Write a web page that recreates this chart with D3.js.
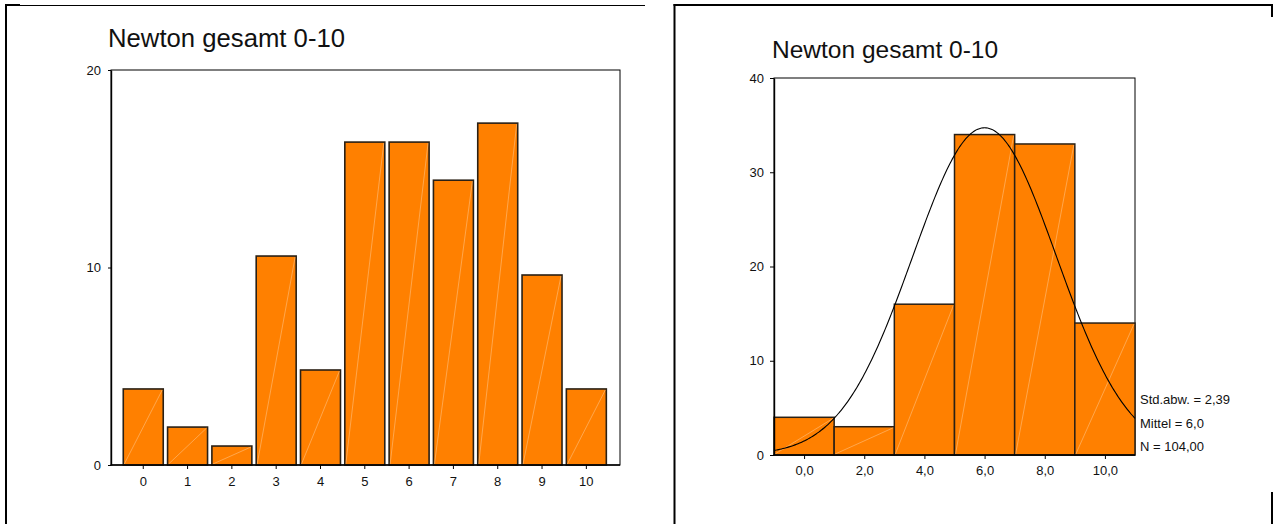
<!DOCTYPE html>
<html>
<head>
<meta charset="utf-8">
<script src="https://cdn.jsdelivr.net/npm/d3@7"></script>
<style>
  html, body { margin: 0; padding: 0; background: #fff; }
  svg { display: block; font-family: "Liberation Sans", Arial, sans-serif; }
</style>
</head>
<body>
<svg id="chart" width="1277" height="524"></svg>
<script>
// ---------- data ----------
const titleText = "Newton gesamt 0-10";

// left chart: percent of cases per score 0..10 (N = 104)
const categories = ["0", "1", "2", "3", "4", "5", "6", "7", "8", "9", "10"];
const percents = [3.85, 1.92, 0.96, 10.58, 4.81, 16.35, 16.35, 14.42, 17.31, 9.62, 3.85];
const leftYTicks = [0, 10, 20];

// right chart: histogram, bins of width 2 centred on 0,2,...,10
const binCenters = [0, 2, 4, 6, 8, 10];
const binCounts = [4, 3, 16, 34, 33, 14];
const binWidth = 2;
const rightXTickLabels = ["0,0", "2,0", "4,0", "6,0", "8,0", "10,0"];
const rightYTicks = [0, 10, 20, 30, 40];

// statistics shown next to the histogram (normal curve uses them)
const statsStd = 2.39;
const statsMean = 6.0;
const statsN = 104;
const statsLabels = ["Std.abw. = 2,39", "Mittel = 6,0", "N = 104,00"];

// ---------- drawing ----------
const svg = d3.select("#chart");
const ORANGE = "#ff8000";
const BAR_STROKE = "#2a2015";
const DIAG = "rgba(255,230,200,0.55)";

// outer frame lines
const frame = svg.append("g").attr("stroke", "#000").attr("fill", "none");
frame.append("line").attr("x1", 5).attr("x2", 645).attr("y1", 5.5).attr("y2", 5.5).attr("stroke-width", 1.2);
frame.append("line").attr("x1", 5).attr("x2", 20).attr("y1", 5).attr("y2", 5).attr("stroke-width", 2);
frame.append("line").attr("x1", 6).attr("x2", 6).attr("y1", 4).attr("y2", 524).attr("stroke-width", 2);
frame.append("line").attr("x1", 674.5).attr("x2", 674.5).attr("y1", 4).attr("y2", 524).attr("stroke-width", 2);
frame.append("line").attr("x1", 673.5).attr("x2", 1273).attr("y1", 5).attr("y2", 5).attr("stroke-width", 2);
frame.append("line").attr("x1", 1272).attr("x2", 1272).attr("y1", 4).attr("y2", 17).attr("stroke-width", 2);
frame.append("line").attr("x1", 1272).attr("x2", 1272).attr("y1", 492).attr("y2", 524).attr("stroke-width", 2);

// ===== left chart =====
const L = { left: 111, right: 620, top: 70, bottom: 465 };
const xL = d3.scaleBand().domain(categories).range([121.1, 608.5])
  .paddingInner(0.098).paddingOuter(0.049);
const yL = d3.scaleLinear().domain([0, 20]).range([L.bottom, L.top]);

svg.append("text").attr("x", 108).attr("y", 47)
  .attr("font-size", 25.7).attr("fill", "#111").text(titleText);

const gL = svg.append("g");
gL.append("rect").attr("x", L.left).attr("y", L.top)
  .attr("width", L.right - L.left).attr("height", L.bottom - L.top)
  .attr("fill", "none").attr("stroke", "#000").attr("stroke-width", 1);

const barsL = gL.selectAll("g.bar").data(categories).join("g").attr("class", "bar");
barsL.append("rect")
  .attr("x", d => xL(d))
  .attr("y", (d, i) => yL(percents[i]))
  .attr("width", xL.bandwidth())
  .attr("height", (d, i) => yL(0) - yL(percents[i]))
  .attr("fill", ORANGE).attr("stroke", BAR_STROKE).attr("stroke-width", 1.6);
barsL.append("line")
  .attr("x1", d => xL(d) + 1).attr("y1", yL(0) - 1)
  .attr("x2", d => xL(d) + xL.bandwidth() - 1).attr("y2", (d, i) => yL(percents[i]) + 1)
  .attr("stroke", DIAG).attr("stroke-width", 0.7);

const axLY = gL.append("g").attr("transform", `translate(${L.left},0)`)
  .call(d3.axisLeft(yL).tickValues(leftYTicks).tickSize(3).tickSizeOuter(0).tickPadding(7).tickFormat(d3.format("d")));
axLY.select(".domain").attr("stroke-width", 1.4);
const axLX = gL.append("g").attr("transform", `translate(0,${L.bottom})`)
  .call(d3.axisBottom(xL).tickSize(4).tickSizeOuter(0).tickPadding(8));
axLX.select(".domain").remove();
gL.append("line").attr("x1", L.left - 0.5).attr("x2", L.right).attr("y1", L.bottom).attr("y2", L.bottom)
  .attr("stroke", "#000").attr("stroke-width", 1.4);

// ===== right chart =====
const R = { left: 774, right: 1135, top: 78, bottom: 455 };
const xR = d3.scaleLinear().domain([-1, 11]).range([R.left, R.right]);
const yR = d3.scaleLinear().domain([0, 40]).range([R.bottom, R.top]);

svg.append("text").attr("x", 772).attr("y", 58)
  .attr("font-size", 24.5).attr("fill", "#111").text(titleText);

const gR = svg.append("g");
gR.append("rect").attr("x", R.left).attr("y", R.top)
  .attr("width", R.right - R.left).attr("height", R.bottom - R.top)
  .attr("fill", "none").attr("stroke", "#000").attr("stroke-width", 1);

const barsR = gR.selectAll("g.bar").data(binCenters).join("g").attr("class", "bar");
barsR.append("rect")
  .attr("x", d => xR(d - binWidth / 2))
  .attr("y", (d, i) => yR(binCounts[i]))
  .attr("width", d => xR(d + binWidth / 2) - xR(d - binWidth / 2))
  .attr("height", (d, i) => yR(0) - yR(binCounts[i]))
  .attr("fill", ORANGE).attr("stroke", BAR_STROKE).attr("stroke-width", 1.5);
barsR.append("line")
  .attr("x1", d => xR(d - binWidth / 2) + 1).attr("y1", yR(0) - 1)
  .attr("x2", d => xR(d + binWidth / 2) - 1).attr("y2", (d, i) => yR(binCounts[i]) + 1)
  .attr("stroke", DIAG).attr("stroke-width", 0.7);

// fitted normal curve from the stated mean / std. dev. / N
const peak = statsN * binWidth / (statsStd * Math.sqrt(2 * Math.PI));
const curveXs = d3.range(-1, 11.001, 0.05);
const curve = d3.line()
  .x(v => xR(v))
  .y(v => yR(peak * Math.exp(-0.5 * Math.pow((v - statsMean) / statsStd, 2))))
  .curve(d3.curveMonotoneX);
gR.append("path").datum(curveXs).attr("d", curve)
  .attr("fill", "none").attr("stroke", "#000").attr("stroke-width", 1.1);

const axRY = gR.append("g").attr("transform", `translate(${R.left},0)`)
  .call(d3.axisLeft(yR).tickValues(rightYTicks).tickSize(4).tickSizeOuter(0).tickPadding(6).tickFormat(d3.format("d")));
axRY.select(".domain").attr("stroke-width", 1.4);
const axRX = gR.append("g").attr("transform", `translate(0,${R.bottom})`)
  .call(d3.axisBottom(xR).tickValues(binCenters).tickSize(4).tickSizeOuter(0).tickPadding(7)
    .tickFormat((d, i) => rightXTickLabels[i]));
axRX.select(".domain").remove();
gR.append("line").attr("x1", R.left - 0.5).attr("x2", R.right).attr("y1", R.bottom).attr("y2", R.bottom)
  .attr("stroke", "#000").attr("stroke-width", 1.4);

// statistics labels
const statBaselines = [404, 428, 451];
gR.selectAll("text.stat").data(statsLabels).join("text").attr("class", "stat")
  .attr("x", 1140).attr("y", (d, i) => statBaselines[i])
  .attr("font-size", 13).attr("fill", "#111").text(d => d);

// tick text styling
svg.selectAll(".tick text").attr("font-size", 13).attr("fill", "#111")
  .attr("font-family", "'Liberation Sans', Arial, sans-serif");
svg.selectAll(".tick line").attr("stroke", "#000");
</script>
</body>
</html>
